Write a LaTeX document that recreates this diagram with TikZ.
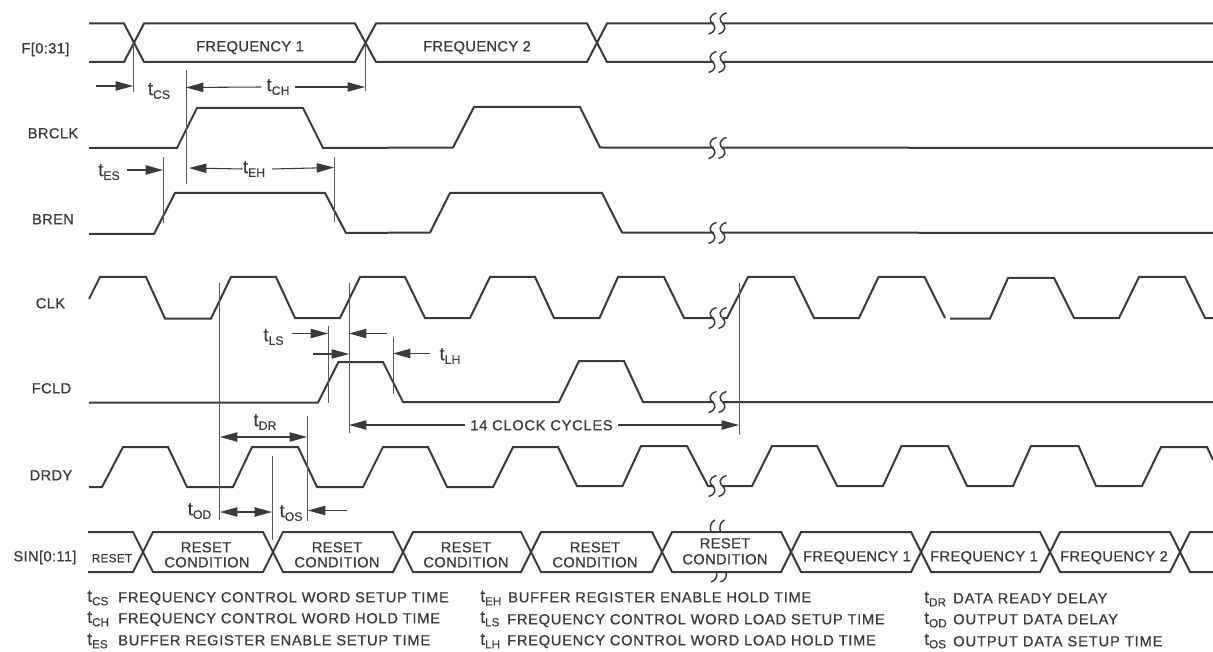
\documentclass[tikz,border=0pt]{standalone}
\usepackage{fontspec}
\usetikzlibrary{arrows.meta}
\setmainfont[LetterSpace=2.5,FakeBold=0.7]{Liberation Sans}
\newfontfamily\legfont[LetterSpace=4.9,FakeBold=0.7]{Liberation Sans}
\newfontfamily\colthree[LetterSpace=6,FakeBold=0.7]{Liberation Sans}
\newfontfamily\plainsub[FakeBold=0.3]{Liberation Sans}
\definecolor{ink}{HTML}{3A3A3A}
\definecolor{thin}{HTML}{5A5A5A}
\newcommand{\fs}[1]{\fontsize{#1}{#1}\selectfont}
% t with a subscript
\newcommand{\tmg}[1]{{\plainsub\fs{14}t\raisebox{-2.8pt}{\fs{9.2}#1}}}
\newcommand{\tlg}[1]{{\plainsub\fs{13}t\raisebox{-2.6pt}{\fs{8.8}#1}}}
% break mark on a line at height #1
\newcommand{\brk}[1]{%
  \fill[white] (713.5,#1-2.2) rectangle (721.5,#1+2.2);
  \draw[brkline] (716.5,#1-10.5) .. controls (708,#1-8) and (709.5,#1-2) .. (712.5,#1) .. controls (715.5,#1+2) and (717,#1+8) .. (708.5,#1+10.5);
  \draw[brkline] (726.5,#1-10.5) .. controls (718,#1-8) and (719.5,#1-2) .. (722.5,#1) .. controls (725.5,#1+2) and (727,#1+8) .. (718.5,#1+10.5);}
\tikzset{
  wave/.style={draw=ink,line width=1.5pt,line join=miter},
  brkline/.style={draw=ink,line width=1.1pt},
  guide/.style={draw=thin,line width=0.6pt},
  dim/.style={draw=ink,line width=0.8pt,-{Triangle[length=13pt,width=7pt]},shorten >=0pt},
  dimtwo/.style={draw=ink,line width=0.8pt,{Triangle[length=13pt,width=7pt]}-{Triangle[length=13pt,width=7pt]}},
  sig/.style={inner sep=0pt,text=ink,font=\fs{11},text height=8pt,text depth=0pt,anchor=center},
  cell/.style={inner sep=0pt,text=ink,font=\fs{11},text height=8pt,text depth=0pt,anchor=center},
  small/.style={inner sep=0pt,text=ink,font=\fs{8.8},text height=6.4pt,text depth=0pt,anchor=center},
  tlab/.style={inner sep=0pt,text=ink,anchor=center},
  leg/.style={inner sep=0pt,text=ink,font=\legfont\fs{11},text height=8pt,text depth=0pt,anchor=west},
  legc/.style={inner sep=0pt,text=ink,font=\colthree\fs{11},text height=8pt,text depth=0pt,anchor=west},
  legt/.style={inner sep=0pt,text=ink,anchor=west}
}
\begin{document}
\begin{tikzpicture}[x=0.75pt,y=-0.75pt]
\useasboundingbox (0,0) rectangle (1213,652);
% ---- signal names
\node[sig] (nF) at (45.5,48) {F[0:31]};
\node[sig] (nBRCLK) at (53,133) {BRCLK};
\node[sig] (nBREN) at (53,219) {BREN};
\node[sig] (nCLK) at (50.5,303) {CLK};
\node[sig] (nFCLD) at (51.5,388) {FCLD};
\node[sig] (nDRDY) at (51,475) {DRDY};
\node[sig] (nSIN) at (45,556) {SIN[0:11]};
% ---- F[0:31]
\draw[wave] (89,23.5)--(124,23.5)--(144,62)--(355,62)--(376,23.5)--(587,23.5)--(607,62)--(1213,62);
\draw[wave] (89,62)--(124,62)--(144,23.5)--(355,23.5)--(376,62)--(587,62)--(607,23.5)--(1213,23.5);
\node[cell] (f1) at (250,46) {FREQUENCY 1};
\node[cell] (f2) at (477,46) {FREQUENCY 2};
% ---- BRCLK
\draw[wave] (89,148)--(177,148)--(197,108)--(303,108)--(323,148)--(453,147.5)--(474,107)--(580,107)--(600,147.5)--(1213,148);
% ---- BREN
\draw[wave] (89,234)--(154,234)--(175,193)--(325,193)--(346,233)--(430,232.5)--(450,193)--(602,193)--(622,232.5)--(1213,233);
% ---- CLK
\draw[wave] (89,299)--(100,277)--(146,277)--(165,318.5)--(211,318.5)--(231,277)--(276,277)--(295,318)--(340,318)--(360,277)--(405,277)--(425,318)--(470,318)--(490,277)--(535,277)--(554,318)--(599.5,318)--(618,277)--(664,277)--(684,318)--(727,318)--(748,277)--(794,277)--(814,318)--(859,318)--(878.5,277)--(924.5,277)--(945,318);
\draw[wave] (950,318.5)--(990,318.5)--(1008,278)--(1054,278)--(1074,318)--(1119,318)--(1139,277)--(1185,277)--(1205,318)--(1213,318);
% ---- FCLD
\draw[wave] (89,402.5)--(318,402.5)--(338.5,362)--(383,362)--(403,402)--(559,402)--(579,361)--(624,361)--(643,402)--(1213,402);
% ---- DRDY
\draw[wave] (89,487)--(102,487)--(123,447)--(168,447)--(187,487)--(233,487)--(252,447)--(298,447)--(317,487)--(363,487)--(383,447)--(428,447)--(447,487)--(493,487)--(513,447)--(558,447)--(577,486)--(622.5,486)--(641,446)--(687,446)--(708,486)--(752,486)--(772,446)--(817,446)--(837,486)--(883,486)--(901.5,446)--(948,446)--(967,486)--(1013,486)--(1031,446)--(1078.5,446)--(1096,486)--(1142,486)--(1161,447)--(1207,447)--(1213,460);
% ---- SIN[0:11]
\draw[wave] (88,532)--(133,532)--(153,572)--(263,572)--(283,532)--(393,532)--(413,572)--(521,572)--(541,532)--(652,532)--(672,572)--(781,572)--(801,532)--(911,532)--(931,572)--(1040,572)--(1060,532)--(1170,532)--(1190,572)--(1213,572);
\draw[wave] (88,572)--(133,572)--(153,532)--(263,532)--(283,572)--(393,572)--(413,532)--(521,532)--(541,572)--(652,572)--(672,532)--(781,532)--(801,572)--(911,572)--(931,532)--(1040,532)--(1060,572)--(1170,572)--(1190,532)--(1213,532);
\node[small] (s0) at (112,558) {RESET};
\node[cell] (s1a) at (206,547) {RESET};
\node[cell] (s1b) at (207,562) {CONDITION};
\node[cell] (s2a) at (337,547) {RESET};
\node[cell] (s2b) at (337,562) {CONDITION};
\node[cell] (s3a) at (466,547) {RESET};
\node[cell] (s3b) at (466,562) {CONDITION};
\node[cell] (s4a) at (595,547) {RESET};
\node[cell] (s4b) at (595,562) {CONDITION};
\node[cell] (s5a) at (725,543) {RESET};
\node[cell] (s5b) at (725,559) {CONDITION};
\node[cell] (s6) at (857,556) {FREQUENCY 1};
\node[cell] (s7) at (984,556) {FREQUENCY 1};
\node[cell] (s8) at (1114,556) {FREQUENCY 2};
% ---- break marks
\brk{23.5}\brk{62}\brk{148}\brk{233}\brk{318}\brk{402}\brk{486}
\draw[brkline] (715,520) .. controls (710.5,522) and (709.5,527) .. (711,532);
\draw[brkline] (724.5,520) .. controls (720,522) and (719,527) .. (720.5,532);
\draw[brkline] (716.5,572) .. controls (717.5,577) and (716,580) .. (711,582);
\draw[brkline] (726,572) .. controls (727,577) and (725.5,580) .. (720.5,582);
% ---- guide lines
\coordinate (gCSa) at (133,43);   \coordinate (gCSb) at (133,92);
\coordinate (gCHa) at (186,70);   \coordinate (gCHb) at (186,184);
\coordinate (gCEa) at (365,43);   \coordinate (gCEb) at (365,91);
\coordinate (gESa) at (163,157);  \coordinate (gESb) at (163,223);
\coordinate (gEHa) at (334,157);  \coordinate (gEHb) at (334,222);
\coordinate (gODa) at (219,283);  \coordinate (gODb) at (219,520);
\coordinate (gK1a) at (349,283);  \coordinate (gK1b) at (349,433);
\coordinate (gLSa) at (328,326);  \coordinate (gLSb) at (328,403);
\coordinate (gLHa) at (393,337);  \coordinate (gLHb) at (393,394);
\coordinate (gDRa) at (307.5,416);\coordinate (gDRb) at (307.5,521);
\coordinate (gOSa) at (272.5,456);\coordinate (gOSb) at (272.5,540);
\coordinate (gK2a) at (739,283);  \coordinate (gK2b) at (739,435);
\foreach \g in {CS,CH,CE,ES,EH,OD,K1,LS,LH,DR,OS,K2}{\draw[guide] (g\g a) -- (g\g b);}
% ---- timing labels
\node[tlab] (tCS) at (159,91) {\tmg{CS}};
\node[tlab] (tCH) at (278,87) {\tmg{CH}};
\node[tlab] (tEH) at (254,169) {\tmg{EH}};
\node[tlab] (tES) at (109,172) {\tmg{ES}};
\node[tlab] (tLS) at (273.5,337) {\tmg{LS}};
\node[tlab] (tLH) at (450,356) {\tmg{LH}};
\node[tlab] (tDR) at (265,422) {\tmg{DR}};
\node[tlab] (tOD) at (199.5,511) {\tmg{OD}};
\node[tlab] (tOS) at (291,513) {\tmg{OS}};
\node[inner sep=0pt,text=ink,font=\legfont\fs{11},text height=8pt,text depth=0pt] (cyc) at (541.5,425) {14 CLOCK CYCLES};
% ---- dimension arrows
\coordinate (aCS0) at (96,86);    \coordinate (aCS1) at (133,86);
\coordinate (aCH1) at (186,87.5); \coordinate (aCH2) at (365,87);
\coordinate (aEH1) at (189,168);  \coordinate (aEH2) at (334,167.5);
\coordinate (aES1) at (163,170);
\coordinate (aLS0) at (292,333.5);\coordinate (aLS1) at (328,333.5);
\coordinate (aLT0) at (387,333.5);\coordinate (aLT1) at (349,333.5);
\coordinate (aLU0) at (313,354);  \coordinate (aLU1) at (349,354);
\coordinate (aLH1) at (393,353.5);
\coordinate (aCY1) at (349,425);  \coordinate (aCY2) at (739,425);
\coordinate (aDR1) at (220,437);  \coordinate (aDR2) at (307,437);
\coordinate (aOD1) at (220,512);  \coordinate (aOD2) at (272,512);
\coordinate (aOS0) at (347,510.5);\coordinate (aOS1) at (308,510.5);
\draw[dim] (aCS0) -- (aCS1);
\draw[dim] (tCH.west) ++(-5,0) -- (aCH1);
\draw[dim] (tCH.east) ++(5,0) -- (aCH2);
\draw[dim] (tEH.west) -- (aEH1);
\draw[dim] (tEH.east) ++(7,0) -- (aEH2);
\draw[dim] (tES.east) ++(7,-2) -- (aES1);
\draw[dim] (aLS0) -- (aLS1);
\draw[dim] (aLT0) -- (aLT1);
\draw[dim] (aLU0) -- (aLU1);
\draw[dim] (tLH.west) ++(-9,-2.5) -- (aLH1);
\draw[dim] (cyc.west) ++(-5,0) -- (aCY1);
\draw[dim] (cyc.east) ++(5,0) -- (aCY2);
\draw[dimtwo] (aDR1) -- (aDR2);
\draw[dimtwo] (aOD1) -- (aOD2);
\draw[dim] (aOS0) -- (aOS1);
% ---- legend
\node[legt] (l1t) at (87,598) {\tlg{CS}};
\node[leg]  (l1)  at (118,597) {FREQUENCY CONTROL WORD SETUP TIME};
\node[legt] (l2t) at (87,619) {\tlg{CH}};
\node[leg]  (l2)  at (118,618) {FREQUENCY CONTROL WORD HOLD TIME};
\node[legt] (l3t) at (87,641) {\tlg{ES}};
\node[leg]  (l3)  at (118,640) {BUFFER REGISTER ENABLE SETUP TIME};
\node[legt] (l4t) at (480,598) {\tlg{EH}};
\node[leg]  (l4)  at (508,597) {BUFFER REGISTER ENABLE HOLD TIME};
\node[legt] (l5t) at (480,619) {\tlg{LS}};
\node[leg]  (l5)  at (507,619) {FREQUENCY CONTROL WORD LOAD SETUP TIME};
\node[legt] (l6t) at (480,641) {\tlg{LH}};
\node[leg]  (l6)  at (507,640) {FREQUENCY CONTROL WORD LOAD HOLD TIME};
\node[legt] (l7t) at (924,599) {\tlg{DR}};
\node[legc] (l7)  at (953,598) {DATA READY DELAY};
\node[legt] (l8t) at (924,620) {\tlg{OD}};
\node[legc] (l8)  at (953,619) {OUTPUT DATA DELAY};
\node[legt] (l9t) at (924,641) {\tlg{OS}};
\node[legc] (l9)  at (953,641) {OUTPUT DATA SETUP TIME};
\end{tikzpicture}
\end{document}
